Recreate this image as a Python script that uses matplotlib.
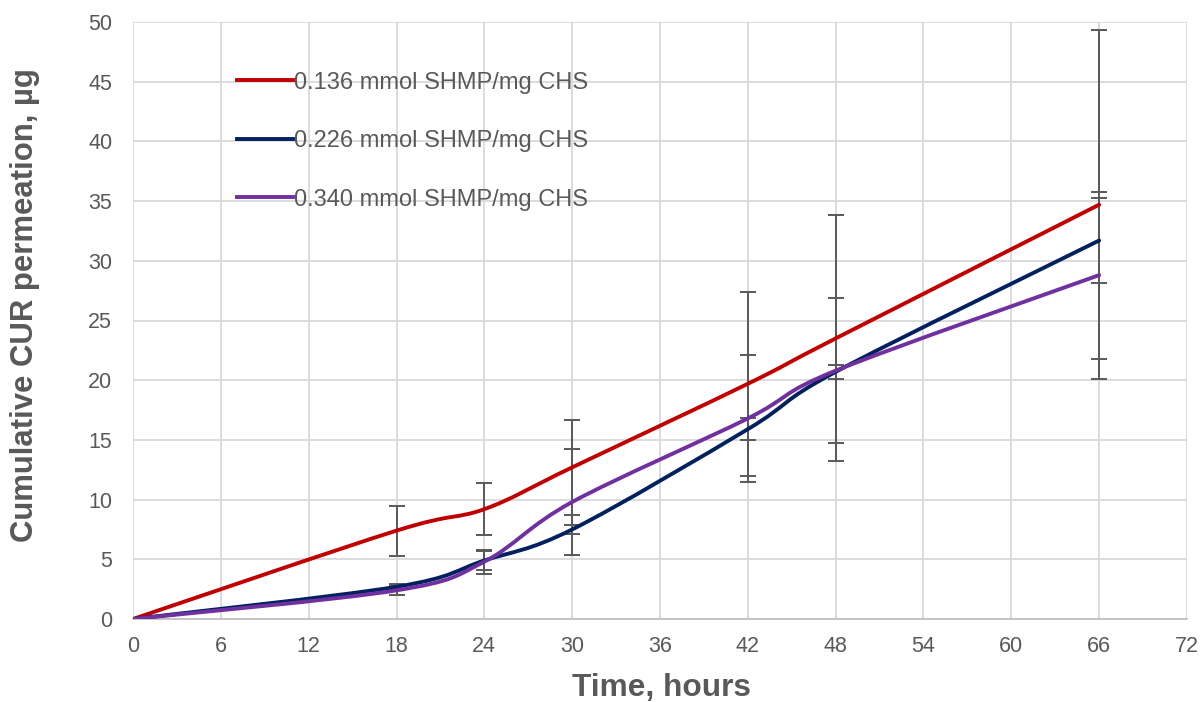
import matplotlib
matplotlib.use("Agg")
import matplotlib.pyplot as plt
from matplotlib.path import Path
from matplotlib.patches import PathPatch
from matplotlib.lines import Line2D
import numpy as np

plt.rcParams['font.family'] = ['Liberation Sans', 'DejaVu Sans']

time_h = [0, 18, 24, 30, 42, 48, 66]
labels = ["0.136 mmol SHMP/mg CHS", "0.226 mmol SHMP/mg CHS", "0.340 mmol SHMP/mg CHS"]
colors = ["#C00000", "#002060", "#7030A0"]
s136 = [0.0, 7.4, 9.2, 12.7, 19.7, 23.5, 34.7]
s226 = [0.0, 2.7, 4.9, 7.5, 15.9, 20.7, 31.7]
s340 = [0.0, 2.4, 4.8, 9.8, 16.8, 20.8, 28.8]
e136 = [0.0, 2.1, 2.2, 4.0, 7.7, 10.3, 14.6]
e226 = [0.0, 0.2, 0.8, 0.4, 0.9, 0.6, 3.6]
e340 = [0.0, 0.4, 1.0, 4.4, 5.3, 6.1, 7.0]
series = [s136, s226, s340]
errors = [e136, e226, e340]
xticks = list(range(0, 73, 6))
yticks = list(range(0, 51, 5))

W, H = 1203, 702
fig = plt.figure(figsize=(W / 100, H / 100), dpi=100)
ax = fig.add_axes([133 / W, 1 - 619 / H, (1187 - 133) / W, (619 - 22) / H])
ax.set_xlim(0, 72)
ax.set_ylim(0, 50)
ax.set_xticks(xticks)
ax.set_yticks(yticks)
ax.grid(True, color="#d9d9d9", lw=1.3)
ax.set_axisbelow(True)
for s in ["top", "right", "left"]:
    ax.spines[s].set_visible(False)
ax.spines["bottom"].set_color("#bfbfbf")
ax.spines["bottom"].set_linewidth(1.3)
ax.tick_params(length=0, labelsize=15.5, labelcolor="#595959")
ax.tick_params(axis="x", pad=12)
ax.tick_params(axis="y", pad=15)

def smooth_path(xs, ys):
    # Excel-like smoothed line: cubic Bezier between points (Catmull-Rom, display space)
    pts = ax.transData.transform(np.column_stack([xs, ys]))
    n = len(pts)
    verts = [pts[0]]
    codes = [Path.MOVETO]
    for i in range(n - 1):
        p0 = pts[i - 1] if i > 0 else pts[i]
        p1 = pts[i]
        p2 = pts[i + 1]
        p3 = pts[i + 2] if i + 2 < n else pts[i + 1]
        c1 = p1 + (p2 - p0) / 6.0
        c2 = p2 - (p3 - p1) / 6.0
        verts += [c1, c2, p2]
        codes += [Path.CURVE4] * 3
    return Path(verts, codes)

handles = []
for ys, es in zip(series, errors):
    ax.errorbar(time_h[1:], ys[1:], yerr=es[1:], fmt="none", ecolor="#595959",
                elinewidth=1.4, capsize=5.5, capthick=1.4, zorder=2)
for ys, c, lab in zip(series, colors, labels):
    p = smooth_path(time_h, ys)
    ax.add_patch(PathPatch(p, transform=None, facecolor="none", edgecolor=c,
                           lw=2.8, zorder=3, capstyle="round"))
    handles.append(Line2D([], [], color=c, lw=2.8, label=lab))

leg = ax.legend(handles=handles, loc="upper left", bbox_to_anchor=(0.0987, 0.917),
                frameon=False, fontsize=17, labelspacing=1.55, handlelength=2.35,
                handletextpad=0.05, borderpad=0, borderaxespad=0,
                labelcolor="#595959")

fig.text(661.7 / W, 1 - 696 / H, "Time, hours", fontsize=22.8, fontweight="bold",
         color="#595959", ha="center", va="baseline")
fig.text(25 / W, 1 - 305 / H, "Cumulative CUR permeation, µg", fontsize=22.4,
         fontweight="bold", color="#595959", ha="center", va="center", rotation=90)

fig.savefig("out.png", dpi=100)
